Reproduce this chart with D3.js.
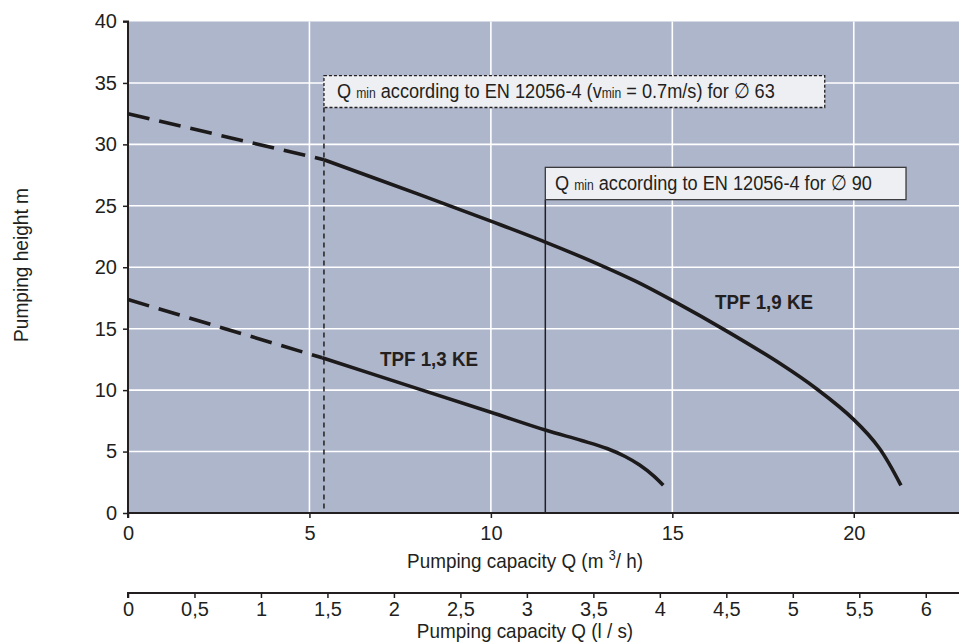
<!DOCTYPE html>
<html><head><meta charset="utf-8">
<script src="https://cdn.jsdelivr.net/npm/d3@7"></script>
<style>
body{margin:0;background:#fff;}
svg text{font-family:"Liberation Sans",Arial,sans-serif;fill:#231f20;}
</style></head>
<body><svg id="c" width="959" height="644"></svg>
<script>
// ---- data ----
const xTicks = [0, 5, 10, 15, 20];
const yTicks = [0, 5, 10, 15, 20, 25, 30, 35, 40];
const lsTicks = [0, 0.5, 1, 1.5, 2, 2.5, 3, 3.5, 4, 4.5, 5, 5.5, 6];
const lsLabels = ["0","0,5","1","1,5","2","2,5","3","3,5","4","4,5","5","5,5","6"];

const q19Dashed = [0, 5.4];
const h19Dashed = [32.5, 28.75];
const q19 = [5.4, 8, 10, 11.5, 13, 14, 15, 16.5, 18, 19, 20, 20.7, 21.3];
const h19 = [28.75, 25.95, 23.75, 22.05, 20.2, 18.85, 17.3, 14.8, 12.1, 10.05, 7.6, 5.29, 2.25];

const q13Dashed = [0, 5.35];
const h13Dashed = [17.37, 12.63];
const q13 = [5.35, 8, 10, 11.5, 12.5, 13.2, 13.7, 14.1, 14.5, 14.75];
const h13 = [12.63, 10.1, 8.2, 6.75, 5.9, 5.25, 4.6, 3.9, 2.98, 2.25];

const seriesNames = ["TPF 1,9 KE", "TPF 1,3 KE"];
const qminLines = [5.4, 11.5];

// ---- layout ----
const svg = d3.select("#c");
const L = 128, R = 959, T = 21.5, B = 513;
const x = d3.scaleLinear().domain([0, 22.9]).range([L, R]);
const y = d3.scaleLinear().domain([0, 40]).range([B, T]);
const xls = d3.scaleLinear().domain([0, 6.25]).range([L, R]);

svg.append("rect").attr("x", L).attr("y", T).attr("width", R - L).attr("height", B - T).attr("fill", "#aeb6cb");

// grid
svg.append("g").selectAll("line").data(xTicks.filter(d => d > 0)).join("line")
  .attr("x1", d => x(d)).attr("x2", d => x(d)).attr("y1", T).attr("y2", B)
  .attr("stroke", "#fff").attr("stroke-width", 1.6);
svg.append("g").selectAll("line").data(yTicks.filter(d => d > 0 && d < 40)).join("line")
  .attr("x1", L).attr("x2", R).attr("y1", d => y(d)).attr("y2", d => y(d))
  .attr("stroke", "#fff").attr("stroke-width", 1.6);

// axes
const fs = "20px";
const yAx = svg.append("g").attr("transform", `translate(${L},0)`)
  .call(d3.axisLeft(y).tickValues(yTicks).tickSize(5).tickPadding(6));
const xAx = svg.append("g").attr("transform", `translate(0,${B})`)
  .call(d3.axisBottom(x).tickValues(xTicks).tickSize(5).tickPadding(8));
const lsAx = svg.append("g").attr("transform", `translate(0,593)`)
  .call(d3.axisBottom(xls).tickValues(lsTicks).tickFormat((d, i) => lsLabels[i]).tickSize(5).tickPadding(4));
[yAx, xAx, lsAx].forEach(g => {
  g.select(".domain").attr("stroke", "#231f20").attr("stroke-width", 2);
  g.selectAll(".tick line").attr("stroke", "#231f20").attr("stroke-width", 1.5);
  g.selectAll("text").style("font-size", fs).attr("fill", "#231f20").style("font-family", '"Liberation Sans",Arial,sans-serif');
});
yAx.select(".domain").attr("d", `M-5,${T}H0V${B}`);
xAx.select(".domain").attr("d", `M${L},5V0H${R}`);
lsAx.select(".domain").attr("d", `M${L},5V0H${R}`);

// condensed text helper
function ntext(tx, ty, sx, anchor, rot) {
  const g = svg.append("g").attr("transform", `translate(${tx},${ty})${rot ? " rotate(" + rot + ")" : ""} scale(${sx},1)`);
  return g.append("text").attr("text-anchor", anchor || "start").style("font-size", "21px");
}

// axis titles
const xt = ntext(525, 568, 0.9, "middle");
xt.append("tspan").text("Pumping capacity Q (m ");
xt.append("tspan").text("3").attr("dy", -8).style("font-size", "14px");
xt.append("tspan").text("/ h)").attr("dy", 8);
ntext(525, 638, 0.9, "middle").text("Pumping capacity Q (l / s)");
ntext(28, 265, 0.91, "middle", -90).text("Pumping height m");

// Qmin vertical lines
svg.append("line").attr("x1", x(qminLines[0])).attr("x2", x(qminLines[0])).attr("y1", y(33)).attr("y2", B)
  .attr("stroke", "#231f20").attr("stroke-width", 1.5).attr("stroke-dasharray", "5,4");
svg.append("line").attr("x1", x(qminLines[1])).attr("x2", x(qminLines[1])).attr("y1", y(25.5)).attr("y2", B)
  .attr("stroke", "#231f20").attr("stroke-width", 1.5);

// curves
const line = d3.line().x(d => x(d[0])).y(d => y(d[1])).curve(d3.curveCatmullRom.alpha(0.5));
const zip = (a, b) => a.map((v, i) => [v, b[i]]);
function drawCurve(q, h, dashed) {
  svg.append("path").attr("d", line(zip(q, h))).attr("fill", "none")
    .attr("stroke", "#1c1a1b").attr("stroke-width", 3.6)
    .attr("stroke-dasharray", dashed ? "22,10" : null);
}
drawCurve(q19Dashed, h19Dashed, true);
drawCurve(q19, h19, false);
drawCurve(q13Dashed, h13Dashed, true);
drawCurve(q13, h13, false);

// annotation boxes
function box(x0, x1, yTop, yBot, dashed) {
  svg.append("rect").attr("x", x(x0)).attr("y", y(yTop)).attr("width", x(x1) - x(x0)).attr("height", y(yBot) - y(yTop))
    .attr("fill", "#eeeff3").attr("stroke", dashed ? "#231f20" : "#3a3a3c").attr("stroke-width", 1.3)
    .attr("stroke-dasharray", dashed ? "3,2" : null);
}
box(5.4, 19.2, 35.6, 33.0, true);
box(11.5, 21.44, 28.13, 25.5, false);

const t1 = ntext(337, 98, 0.865);
t1.append("tspan").text("Q ");
t1.append("tspan").text("min").style("font-size", "14px");
t1.append("tspan").text(" according to EN 12056-4 (v");
t1.append("tspan").text("min").style("font-size", "14px");
t1.append("tspan").text(" = 0.7m/s) for \u2205 63");

const t2 = ntext(555, 190, 0.865);
t2.append("tspan").text("Q ");
t2.append("tspan").text("min").style("font-size", "14px");
t2.append("tspan").text(" according to EN 12056-4 for \u2205 90");

// series labels
svg.append("text").attr("x", 715).attr("y", 309).style("font-size", "21px").style("font-weight", "bold")
  .attr("textLength", 98).attr("lengthAdjust", "spacingAndGlyphs").text(seriesNames[0]);
svg.append("text").attr("x", 380).attr("y", 366).style("font-size", "21px").style("font-weight", "bold")
  .attr("textLength", 98).attr("lengthAdjust", "spacingAndGlyphs").text(seriesNames[1]);
</script></body></html>
